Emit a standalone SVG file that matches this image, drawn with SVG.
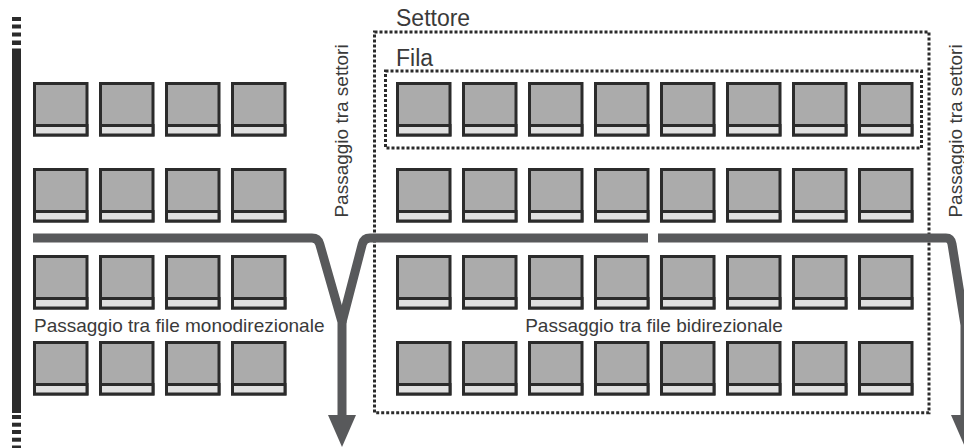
<svg xmlns="http://www.w3.org/2000/svg" xmlns:xlink="http://www.w3.org/1999/xlink" width="964" height="448" viewBox="0 0 964 448">
<style>
.lbl{font-family:"Liberation Sans",Arial,sans-serif;fill:#3a3a3a}
.s19{font-size:19px}
.s23{font-size:23px}
.dot{fill:none;stroke:#2b2b2b;stroke-width:3;stroke-dasharray:3 2}
.flow{fill:none;stroke:#58595b;stroke-width:9;stroke-linejoin:round}
.head{fill:#58595b}
.bar{fill:#2b2b2b}
</style>
<defs>
<g id="seat">
<rect x="1.5" y="1.5" width="52.5" height="51.5" fill="#ababab" stroke="#2b2b2b" stroke-width="3"/>
<rect x="1.5" y="43.5" width="52.5" height="9.5" fill="#e0e0e0" stroke="#2b2b2b" stroke-width="3"/>
</g>
</defs>
<rect width="964" height="448" fill="#ffffff"/>
<g id="left-edge">
<rect class="bar" x="12" y="17" width="9" height="4"/>
<rect class="bar" x="12" y="24.5" width="9" height="4"/>
<rect class="bar" x="12" y="32.5" width="9" height="4"/>
<rect class="bar" x="12" y="40.5" width="9" height="4.5"/>
<rect class="bar" x="12" y="48.5" width="9" height="364.5"/>
<rect class="bar" x="12" y="415" width="9" height="4"/>
<rect class="bar" x="12" y="422.7" width="9" height="4"/>
<rect class="bar" x="12" y="430" width="9" height="4"/>
<rect class="bar" x="12" y="437.7" width="9" height="4"/>
<rect class="bar" x="12" y="445.5" width="9" height="3"/>
</g>
<g id="seats-left">
<use xlink:href="#seat" x="33" y="82"/><use xlink:href="#seat" x="99" y="82"/><use xlink:href="#seat" x="165" y="82"/><use xlink:href="#seat" x="231" y="82"/>
<use xlink:href="#seat" x="33" y="168"/><use xlink:href="#seat" x="99" y="168"/><use xlink:href="#seat" x="165" y="168"/><use xlink:href="#seat" x="231" y="168"/>
<use xlink:href="#seat" x="33" y="255"/><use xlink:href="#seat" x="99" y="255"/><use xlink:href="#seat" x="165" y="255"/><use xlink:href="#seat" x="231" y="255"/>
<use xlink:href="#seat" x="33" y="341"/><use xlink:href="#seat" x="99" y="341"/><use xlink:href="#seat" x="165" y="341"/><use xlink:href="#seat" x="231" y="341"/>
</g>
<g id="seats-right">
<use xlink:href="#seat" x="396" y="82"/><use xlink:href="#seat" x="462" y="82"/><use xlink:href="#seat" x="528" y="82"/><use xlink:href="#seat" x="594" y="82"/><use xlink:href="#seat" x="660" y="82"/><use xlink:href="#seat" x="726" y="82"/><use xlink:href="#seat" x="792" y="82"/><use xlink:href="#seat" x="858" y="82"/>
<use xlink:href="#seat" x="396" y="168"/><use xlink:href="#seat" x="462" y="168"/><use xlink:href="#seat" x="528" y="168"/><use xlink:href="#seat" x="594" y="168"/><use xlink:href="#seat" x="660" y="168"/><use xlink:href="#seat" x="726" y="168"/><use xlink:href="#seat" x="792" y="168"/><use xlink:href="#seat" x="858" y="168"/>
<use xlink:href="#seat" x="396" y="255"/><use xlink:href="#seat" x="462" y="255"/><use xlink:href="#seat" x="528" y="255"/><use xlink:href="#seat" x="594" y="255"/><use xlink:href="#seat" x="660" y="255"/><use xlink:href="#seat" x="726" y="255"/><use xlink:href="#seat" x="792" y="255"/><use xlink:href="#seat" x="858" y="255"/>
<use xlink:href="#seat" x="396" y="341"/><use xlink:href="#seat" x="462" y="341"/><use xlink:href="#seat" x="528" y="341"/><use xlink:href="#seat" x="594" y="341"/><use xlink:href="#seat" x="660" y="341"/><use xlink:href="#seat" x="726" y="341"/><use xlink:href="#seat" x="792" y="341"/><use xlink:href="#seat" x="858" y="341"/>
</g>
<g id="settore">
<rect class="dot" x="374.5" y="32" width="554.5" height="380.7"/>
<text class="lbl s23" x="396" y="26">Settore</text>
</g>
<g id="fila">
<rect class="dot" x="385.5" y="71" width="536" height="77"/>
<text class="lbl s23" x="396" y="66">Fila</text>
</g>
<g id="connectors">
<path class="flow" d="M33 238 H312 Q318 238 319.7 244 L342 322 V416"/>
<path class="flow" d="M648 238 H370 Q364 238 362.3 244 L342 322"/>
<polygon class="head" points="328,415 356,415 342,447"/>
<path class="flow" d="M658 238 H946 Q951 238 952 244 L965 325 V416"/>
<polygon class="head" points="951,415 979,415 965,447"/>
</g>
<g id="labels">
<text class="lbl s19" x="34" y="332">Passaggio tra file monodirezionale</text>
<text class="lbl s19" x="654" y="332" text-anchor="middle">Passaggio tra file bidirezionale</text>
<text class="lbl s19" transform="translate(348,131) rotate(-90)" text-anchor="middle">Passaggio tra settori</text>
<text class="lbl s19" transform="translate(962,131) rotate(-90)" text-anchor="middle">Passaggio tra settori</text>
</g>
</svg>
